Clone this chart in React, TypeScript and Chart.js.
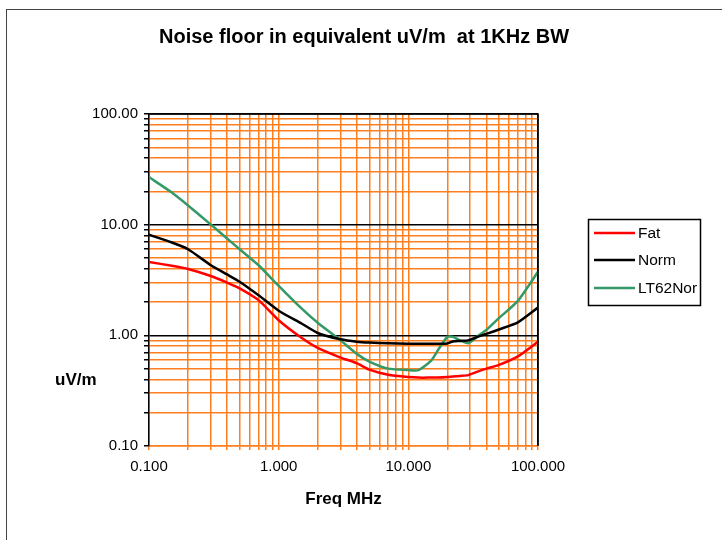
import React, { useEffect, useRef } from "react";
import { Chart, registerables } from "chart.js";

Chart.register(...registerables);

// Frequencies (MHz) shared by all three curves
const freqs = [0.1, 0.15, 0.2, 0.3, 0.4, 0.5, 0.7, 1, 1.5, 2, 3, 4, 5, 7, 10, 12, 15, 17, 20, 22, 25, 29, 35, 40, 50, 70, 100];

// Noise floor in uV/m for each antenna
const fatVals = [4.6, 4.25, 3.98, 3.44, 3.0, 2.66, 2.08, 1.37, 0.95, 0.77, 0.63, 0.56, 0.49, 0.44, 0.42, 0.415, 0.415, 0.415, 0.42, 0.425, 0.43, 0.437, 0.475, 0.5, 0.54, 0.645, 0.875];
const normVals = [8.1, 6.9, 6.0, 4.3, 3.55, 3.05, 2.3, 1.67, 1.28, 1.05, 0.92, 0.875, 0.86, 0.85, 0.84, 0.84, 0.84, 0.84, 0.845, 0.88, 0.89, 0.9, 0.98, 1.03, 1.13, 1.31, 1.78];
const lt62Vals = [26.9, 19.5, 14.9, 10.0, 7.5, 6.0, 4.3, 2.8, 1.75, 1.3, 0.9, 0.68, 0.58, 0.5, 0.485, 0.485, 0.59, 0.74, 0.97, 0.97, 0.9, 0.85, 1.0, 1.12, 1.43, 2.05, 3.75];

const seriesNames = ["Fat", "Norm", "LT62Nor"];
const seriesColors = ["#ff0000", "#000000", "#339966"];

// Axis decades and their printed labels
const xDecades = [0.1, 1, 10, 100];
const xTickLabels = ["0.100", "1.000", "10.000", "100.000"];
const yDecades = [0.1, 1, 10, 100];
const yTickLabels = ["0.10", "1.00", "10.00", "100.00"];
const multiples = [1, 2, 3, 4, 5, 6, 7, 8, 9];

const titleText = "Noise floor in equivalent uV/m  at 1KHz BW";
const xTitleText = "Freq MHz";
const yTitleText = "uV/m";

const ORANGE = "#ff7f1f";
const FONT = "'Liberation Sans', Arial, sans-serif";

const logTicks = (decades: number[]) => {
  const out: number[] = [];
  decades.slice(0, -1).forEach((d) => multiples.forEach((m) => out.push(+(m * d).toPrecision(3))));
  out.push(decades[decades.length - 1]);
  return out;
};

const decadeIndex = (decades: number[], v: number) =>
  decades.findIndex((d) => Math.abs(v - d) / d < 1e-6);

const decorPlugin = {
  id: "decor",
  afterDraw(chart: any) {
    const ctx = chart.ctx as CanvasRenderingContext2D;
    const a = chart.chartArea;
    ctx.save();
    // plot frame top / right
    ctx.strokeStyle = "#000";
    ctx.lineWidth = 1.5;
    ctx.beginPath();
    ctx.moveTo(a.left, a.top);
    ctx.lineTo(a.right, a.top);
    ctx.lineTo(a.right, a.bottom);
    ctx.stroke();

    ctx.fillStyle = "#000";
    ctx.textBaseline = "middle";
    ctx.textAlign = "center";
    ctx.font = `bold 20px ${FONT}`;
    ctx.fillText(titleText, 364, 37);

    ctx.font = `bold 17px ${FONT}`;
    ctx.fillText(xTitleText, (a.left + a.right) / 2, 499);
    ctx.textAlign = "left";
    ctx.fillText(yTitleText, 55, 380);

    // legend
    ctx.strokeStyle = "#000";
    ctx.lineWidth = 1.5;
    ctx.strokeRect(588.5, 219.5, 112, 86);
    const rows = [233, 260, 288];
    ctx.font = `15.5px ${FONT}`;
    chart.data.datasets.forEach((ds: any, i: number) => {
      ctx.strokeStyle = ds.borderColor;
      ctx.lineWidth = 2.5;
      ctx.beginPath();
      ctx.moveTo(594, rows[i]);
      ctx.lineTo(635, rows[i]);
      ctx.stroke();
      ctx.fillStyle = "#000";
      ctx.fillText(ds.label, 638, rows[i] + 1);
    });
    ctx.restore();
  },
};

export default function App() {
  const ref = useRef<HTMLCanvasElement>(null);

  useEffect(() => {
    const valueSets = [fatVals, normVals, lt62Vals];
    const chart = new Chart(ref.current!, {
      type: "line",
      data: {
        datasets: valueSets.map((vals, i) => ({
          label: seriesNames[i],
          data: freqs.map((f, j) => ({ x: f, y: vals[j] })),
          borderColor: seriesColors[i],
          backgroundColor: seriesColors[i],
          borderWidth: 2.5,
          pointRadius: 0,
          tension: 0.2,
          fill: false,
        })),
      },
      options: {
        responsive: false,
        animation: false,
        devicePixelRatio: 1,
        layout: { padding: { left: 0, top: 114, right: 184, bottom: 54 } },
        plugins: { legend: { display: false }, title: { display: false }, tooltip: { enabled: false } },
        scales: {
          x: {
            type: "logarithmic",
            min: 0.1,
            max: 100,
            afterBuildTicks: (s: any) => {
              s.ticks = logTicks(xDecades).map((v) => ({ value: v }));
            },
            afterFit: (s: any) => {
              s.height = 40;
            },
            ticks: {
              autoSkip: false,
              maxRotation: 0,
              padding: 8,
              color: "#000",
              font: { family: FONT, size: 15 },
              callback: (v: any) => {
                const k = decadeIndex(xDecades, Number(v));
                return k >= 0 ? xTickLabels[k] : "";
              },
            },
            grid: {
              color: (c: any) => (c.tick && Math.abs(c.tick.value - 100) < 1e-6 ? "#000" : ORANGE),
              lineWidth: 1.5,
              tickColor: ORANGE,
              tickLength: 4,
            },
            border: { color: ORANGE, width: 1.5 },
          },
          y: {
            type: "logarithmic",
            min: 0.1,
            max: 100,
            afterBuildTicks: (s: any) => {
              s.ticks = logTicks(yDecades).map((v) => ({ value: v }));
            },
            afterFit: (s: any) => {
              s.width = 149;
            },
            ticks: {
              autoSkip: false,
              padding: 6,
              color: "#000",
              font: { family: FONT, size: 15 },
              callback: (v: any) => {
                const k = decadeIndex(yDecades, Number(v));
                return k >= 0 ? yTickLabels[k] : "";
              },
            },
            grid: {
              color: (c: any) => {
                if (!c.tick) return ORANGE;
                const k = decadeIndex(yDecades, c.tick.value);
                return k > 0 ? "#000" : ORANGE;
              },
              lineWidth: 1.5,
              tickColor: "#000",
              tickLength: 5,
            },
            border: { color: "#000", width: 1.5 },
          },
        },
      },
      plugins: [decorPlugin],
    } as any);
    return () => chart.destroy();
  }, []);

  return (
    <div style={{ position: "fixed", left: 0, top: 0, width: 722, height: 540, background: "#fff" }}>
      <div
        style={{
          position: "absolute",
          left: 6,
          top: 9,
          width: 740,
          height: 560,
          borderLeft: "1.5px solid #444",
          borderTop: "1.5px solid #444",
        }}
      />
      <canvas ref={ref} width={722} height={540} style={{ position: "absolute", left: 0, top: 0 }} />
    </div>
  );
}
